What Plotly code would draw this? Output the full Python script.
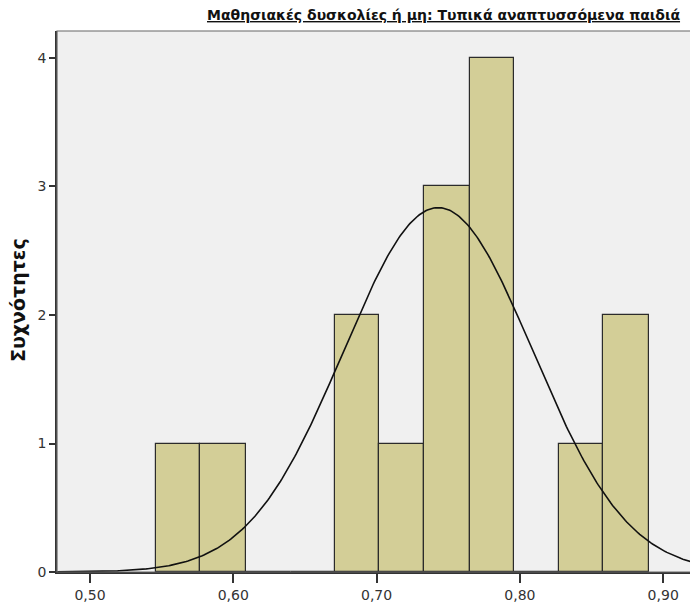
import numpy as np
import plotly.graph_objects as go

# ---- data ----
bin_edges = [0.546, 0.577, 0.609, 0.640, 0.671, 0.702, 0.733, 0.765, 0.796, 0.827, 0.858, 0.890]
counts = [1, 1, 0, 0, 2, 1, 3, 4, 0, 1, 2]
mean_val = 0.743
sd_val = 0.066
n_total = 15
x_tick_vals = [0.50, 0.60, 0.70, 0.80, 0.90]
x_tick_text = ["0,50", "0,60", "0,70", "0,80", "0,90"]
y_tick_vals = [0, 1, 2, 3, 4]
y_tick_text = ["0", "1", "2", "3", "4"]
title_text = "Μαθησιακές δυσκολίες ή μη: Τυπικά αναπτυσσόμενα παιδιά"
y_title = "Συχνότητες"

centers = [(a + b) / 2 for a, b in zip(bin_edges[:-1], bin_edges[1:])]
widths = [b - a for a, b in zip(bin_edges[:-1], bin_edges[1:])]
bw = float(np.mean(widths))

x_range = [0.477, 0.9215]
y_range = [0, 4.21]

xs = np.linspace(x_range[0], x_range[1], 400)
ys = n_total * bw / (sd_val * np.sqrt(2 * np.pi)) * np.exp(-0.5 * ((xs - mean_val) / sd_val) ** 2)

# page body has an 8px margin, so the figure is sized to fit inside the window
OFF = 8
W, H = 698 - OFF, 607 - OFF
L, R, T, B = 57 - OFF, 4, 31 - OFF, 35
pw = W - L - R
ph = H - T - B

fig = go.Figure()
fig.add_trace(go.Bar(
    x=centers, y=counts, width=widths,
    marker=dict(color="#D3CE97", line=dict(color="#2b2b2b", width=1.2)),
    hoverinfo="skip",
))
fig.add_trace(go.Scatter(
    x=xs, y=ys, mode="lines",
    line=dict(color="#111111", width=1.6),
    hoverinfo="skip",
))

tick_font = dict(family="DejaVu Sans, sans-serif", size=14, color="#333333")

fig.update_layout(
    width=W, height=H,
    margin=dict(l=L, r=R, t=T, b=B),
    paper_bgcolor="white",
    plot_bgcolor="#F0F0F0",
    showlegend=False,
    bargap=0,
    font=dict(family="DejaVu Sans, sans-serif", color="#222222"),
    xaxis=dict(
        range=x_range, tickvals=x_tick_vals, ticktext=x_tick_text,
        showgrid=False, zeroline=False, automargin=False,
        showline=True, linecolor="#333333", linewidth=1.5,
        ticks="outside", ticklen=9, tickwidth=1.5, tickcolor="#333333",
        tickfont=tick_font,
    ),
    yaxis=dict(
        range=y_range, tickvals=y_tick_vals, ticktext=y_tick_text,
        showgrid=False, zeroline=False, automargin=False,
        showline=True, linecolor="#333333", linewidth=1.5,
        ticks="outside", ticklen=6, tickwidth=1.5, tickcolor="#333333",
        tickfont=tick_font,
    ),
    shapes=[dict(
        type="rect", xref="paper", yref="paper", x0=0, y0=0, x1=1, y1=1,
        line=dict(color="#666666", width=1.2), fillcolor="rgba(0,0,0,0)", layer="above",
    )],
    annotations=[
        dict(
            text="<b><u>" + title_text + "</u></b>",
            xref="paper", yref="paper", x=(205 - OFF - L) / pw, y=1,
            xanchor="left", yanchor="bottom", yshift=6, showarrow=False,
            font=dict(family="DejaVu Sans, sans-serif", size=14, color="#111111"),
        ),
        dict(
            text="<b>" + y_title + "</b>",
            xref="paper", yref="paper", x=(18 - OFF - L) / pw,
            y=1 - ((300 - OFF) - T) / ph,
            xanchor="center", yanchor="middle", textangle=-90, showarrow=False,
            font=dict(family="DejaVu Sans, sans-serif", size=19, color="#111111"),
        ),
    ],
)

fig.write_html("out.html")
